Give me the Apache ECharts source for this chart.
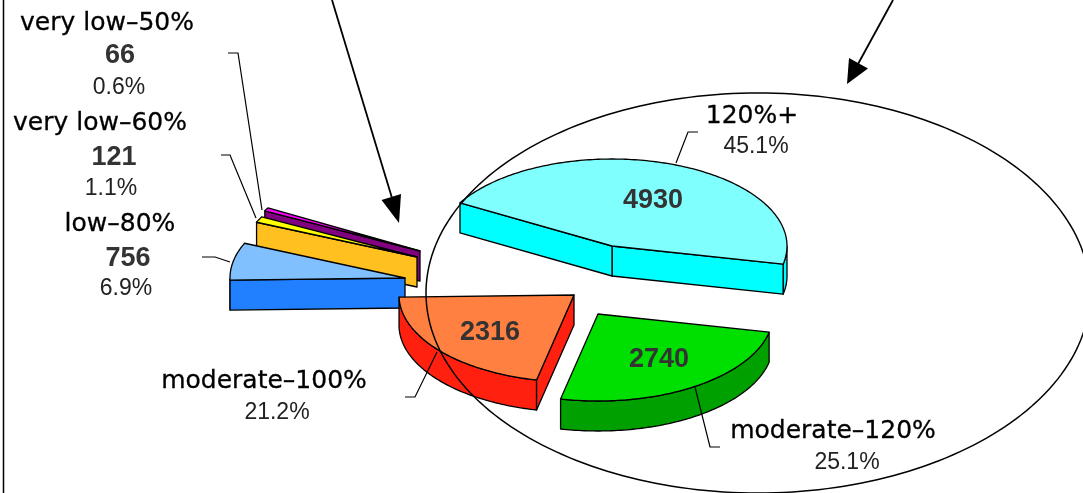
<!DOCTYPE html>
<html><head><meta charset="utf-8">
<script src="https://cdn.jsdelivr.net/npm/echarts@6/dist/echarts.min.js"></script>
<style>html,body{margin:0;padding:0;background:#fff}#c{width:1083px;height:493px}</style>
</head><body><div id="c"></div>
<script>
// ---- data ----
const categories = ['very low–50%', 'very low–60%', 'low–80%', 'moderate–100%', 'moderate–120%', '120%+'];
const values = [66, 121, 756, 2316, 2740, 4930];

// ---- styles / layout ----
const topColors  = ['#FF00FF', '#FFFF00', '#80C0FF', '#FF8040', '#00E000', '#80FFFF'];
const sideColors = ['#800080', '#FFC020', '#2080FF', '#FF2010', '#00A000', '#00FFFF'];
const START_ANGLE = 150.3;         // degrees, slices run counter-clockwise
const RX = 175, RY = 87, DEPTH = 30;
// exploded apex of each slice
const sliceCenters = [[420, 251], [417, 257], [405, 278], [574, 295], [598, 314], [612, 246]];
// label layout: name, value, percent centers
const labelLayout = [
  {name: [107, 23.5], value: [120, 56],  pct: [119, 87.5]},
  {name: [100, 123.5], value: [114, 158], pct: [111, 188.5]},
  {name: [120, 224.5], value: [128, 259], pct: [126, 288.5]},
  {name: [264, 381.5], value: [490, 333], pct: [277, 412.5]},
  {name: [833, 431.5], value: [659, 360], pct: [847, 462.5]},
  {name: [752, 116.5], value: [653, 201], pct: [756, 146.5]}
];
const leaders = [
  [[228, 53], [238, 53], [262, 210]],
  [[221, 155], [230, 155], [256, 218]],
  [[202, 257], [215, 257], [230, 262]],
  [[405, 397], [415, 397], [437, 352]],
  [[695, 387], [710, 447], [720, 447]],
  [[698, 132], [688, 132], [676, 163]]
];

const total = values.reduce((a, b) => a + b, 0);
const startAngles = [];
{ let acc = START_ANGLE; values.forEach(v => { startAngles.push(acc); acc += v / total * 360; }); }

function P(c, th, dy) {
  const r = th * Math.PI / 180;
  return [c[0] + RX * Math.cos(r), c[1] - RY * Math.sin(r) + (dy || 0)];
}
const LINE = {stroke: '#000', lineWidth: 1.3, lineJoin: 'round'};

function renderItem(params, api) {
  const i = params.dataIndex;
  const v = api.value(0);
  const a = startAngles[i];
  const b = a + v / total * 360;
  const c = sliceCenters[i];
  const children = [];
  const angs = [];
  const n = Math.max(2, Math.ceil(b - a));
  for (let k = 0; k <= n; k++) angs.push(a + (b - a) * k / n);
  // outer side (front half only)
  let run = [];
  const runs = [];
  angs.forEach(t => {
    if (Math.sin(t * Math.PI / 180) <= 1e-6) run.push(t);
    else { if (run.length > 1) runs.push(run); run = []; }
  });
  if (run.length > 1) runs.push(run);
  runs.forEach(r => {
    const pts = r.map(t => P(c, t)).concat(r.slice().reverse().map(t => P(c, t, DEPTH)));
    children.push({type: 'polygon', shape: {points: pts}, style: Object.assign({fill: sideColors[i]}, LINE)});
  });
  // cut faces
  const face = t => {
    const p = P(c, t);
    return {type: 'polygon', shape: {points: [c, p, [p[0], p[1] + DEPTH], [c[0], c[1] + DEPTH]]},
      style: Object.assign({fill: sideColors[i]}, LINE)};
  };
  if (Math.cos(a * Math.PI / 180) > 0) children.push(face(a));
  if (Math.cos(b * Math.PI / 180) < 0) children.push(face(b));
  // top face
  children.push({type: 'polygon', shape: {points: [c].concat(angs.map(t => P(c, t)))},
    style: Object.assign({fill: topColors[i]}, LINE)});
  // labels
  const L = labelLayout[i];
  children.push({type: 'polyline', shape: {points: leaders[i]}, style: {stroke: '#000', lineWidth: 1.2, fill: null}});
  children.push({type: 'text', style: {text: categories[i], x: L.name[0], y: L.name[1], align: 'center', verticalAlign: 'middle',
    font: '25px "DejaVu Sans"', fill: '#000', stroke: '#000', lineWidth: 0.3}});
  children.push({type: 'text', style: {text: String(v), x: L.value[0], y: L.value[1], align: 'center', verticalAlign: 'middle',
    font: 'bold 27px "Liberation Sans"', fill: '#333'}});
  children.push({type: 'text', style: {text: (v / total * 100).toFixed(1) + '%', x: L.pct[0], y: L.pct[1], align: 'center', verticalAlign: 'middle',
    font: '23px "Liberation Sans"', fill: '#222'}});
  return {type: 'group', children};
}

// annotation ellipse
const ell = [];
for (let k = 0; k < 240; k++) { const t = k / 240 * Math.PI * 2; ell.push([758 + 332 * Math.cos(t), 293 + 200 * Math.sin(t)]); }

const chart = echarts.init(document.getElementById('c'), null, {renderer: 'canvas'});
chart.setOption({
  backgroundColor: '#fff',
  animation: false,
  series: [{
    type: 'custom',
    coordinateSystem: 'none',
    renderItem,
    data: values.map((v, i) => ({value: v, name: categories[i]}))
  }],
  graphic: [
    {type: 'polygon', z: 100, shape: {points: ell}, style: {fill: 'none', stroke: '#000', lineWidth: 1.5}},
    {type: 'line', z: 100, shape: {x1: 3.5, y1: 0, x2: 3.5, y2: 493}, style: {stroke: '#000', lineWidth: 1.5}},
    {type: 'line', z: 100, shape: {x1: 332, y1: 0, x2: 392, y2: 198}, style: {stroke: '#000', lineWidth: 1.8}},
    {type: 'polygon', z: 100, shape: {points: [[399, 223], [381.5, 200], [401, 194]]}, style: {fill: '#000'}},
    {type: 'line', z: 100, shape: {x1: 893, y1: 0, x2: 858, y2: 64}, style: {stroke: '#000', lineWidth: 1.8}},
    {type: 'polygon', z: 100, shape: {points: [[847, 84], [849, 58], [868, 68.5]]}, style: {fill: '#000'}}
  ]
});
</script></body></html>
